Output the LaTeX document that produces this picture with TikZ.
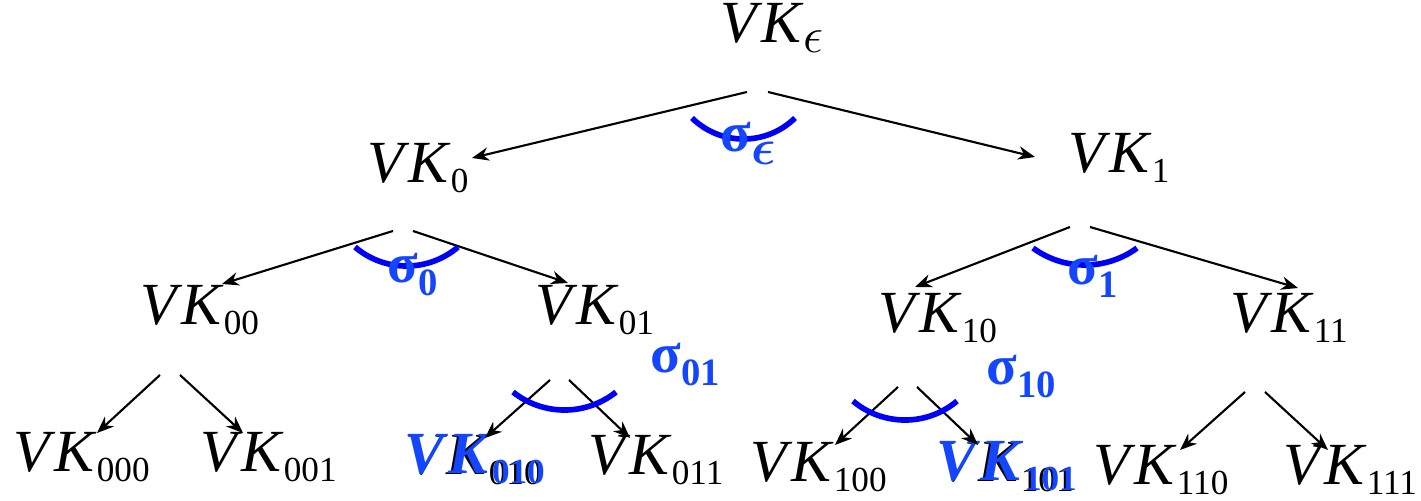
\documentclass[tikz,border=0pt]{standalone}
\usepackage{fontspec}
\setmainfont{Liberation Serif}
\usepackage{amsmath}
\usepackage{xcolor}
\usepackage{tikz}
\usetikzlibrary{positioning,arrows.meta}

\definecolor{sigblue}{RGB}{20,70,255}
\definecolor{arcblue}{RGB}{0,0,250}

\newcommand{\vk}[1]{\textit{V\kern1.2pt K}\raisebox{-2.8pt}{\fontsize{10}{10}\selectfont #1}}
\newcommand{\sig}[1]{\textbf{σ}\raisebox{-3.5pt}{\fontsize{11}{11}\selectfont\bfseries #1}}
\newcommand{\eps}{{\fontsize{14.4}{14.4}\selectfont$\epsilon$}}
\newcommand{\beps}{{\fontsize{14.4}{14.4}\selectfont$\boldsymbol{\epsilon}$}}

\begin{document}
\begin{tikzpicture}[x=0.01cm, y=0.01cm,
    key/.style={inner sep=0pt, anchor=base west, font=\fontsize{17}{17}\selectfont},
    keyhl/.style={key, text=sigblue, font=\fontsize{17}{17}\selectfont\bfseries},
    sig/.style={inner sep=0pt, anchor=base west, text=sigblue, font=\fontsize{16}{16}\selectfont},
    arrow/.style={->, >={Stealth[length=4.8pt,width=3.8pt]}, line width=0.6pt},
    sigarc/.style={draw=arcblue, line width=1.6pt}]

\useasboundingbox (0,0) rectangle (1421,501);

% Keys, level by level
\node[key] (kE) at (720,458) {\vk{\eps}};

\node[key] (k0) at (367,318) {\vk{0}};
\node[key] (k1) at (1068,328) {\vk{1}};

\node[key] (k00) at (140,176) {\vk{00}};
\node[key] (k01) at (535,176) {\vk{01}};
\node[key] (k10) at (878,168) {\vk{10}};
\node[key] (k11) at (1230,168) {\vk{11}};

\node[key] (k000) at (13,29) {\vk{000}};
\node[key] (k001) at (200,29) {\vk{001}};
\node[key] (k010) at (405,26) {\vk{010}};
\node[key] (k011) at (588,26) {\vk{011}};
\node[key] (k100) at (750,19) {\vk{100}};
\node[key] (k101) at (937,19) {\vk{101}};
\node[key] (k110) at (1093,16) {\vk{110}};
\node[key] (k111) at (1283,16) {\vk{111}};

% highlighted keys
\node[keyhl] (k010b) at (404,27) {\vk{010}};
\node[keyhl] (k101b) at (936,20) {\vk{101}};

% Edges
\draw[arrow] ([shift={(27,-49)}]kE.base west) -- ([shift={(105,25)}]k0.base west);
\draw[arrow] ([shift={(48,-49)}]kE.base west) -- ([shift={(-33,16)}]k1.base west);

\draw[arrow] ([shift={(26,-48)}]k0.base west) -- ([shift={(82,41)}]k00.base west);
\draw[arrow] ([shift={(46,-48)}]k0.base west) -- ([shift={(33,42)}]k01.base west);
\draw[arrow] ([shift={(2,-54)}]k1.base west) -- ([shift={(37,46)}]k10.base west);
\draw[arrow] ([shift={(22,-54)}]k1.base west) -- ([shift={(68,45)}]k11.base west);

\draw[arrow] ([shift={(20,-50)}]k00.base west) -- ([shift={(84,39)}]k000.base west);
\draw[arrow] ([shift={(40,-50)}]k00.base west) -- ([shift={(43,39)}]k001.base west);
\draw[arrow] ([shift={(15,-55)}]k01.base west) -- ([shift={(80,37)}]k010.base west);
\draw[arrow] ([shift={(34,-55)}]k01.base west) -- ([shift={(42,37)}]k011.base west);
\draw[arrow] ([shift={(20,-54)}]k10.base west) -- ([shift={(85,37)}]k100.base west);
\draw[arrow] ([shift={(39,-54)}]k10.base west) -- ([shift={(41,37)}]k101.base west);
\draw[arrow] ([shift={(15,-59)}]k11.base west) -- ([shift={(87,35)}]k110.base west);
\draw[arrow] ([shift={(35,-59)}]k11.base west) -- ([shift={(45,35)}]k111.base west);

% Signature arcs
\draw[sigarc] (743.5,435.6) ++(225.6:0.736cm) arc[start angle=225.6, end angle=314.4, radius=0.736cm];
\draw[sigarc] (406.5,314.3) ++(229.5:0.793cm) arc[start angle=229.5, end angle=310.5, radius=0.793cm];
\draw[sigarc] (1085,324) ++(233.8:0.88cm) arc[start angle=233.8, end angle=306.2, radius=0.88cm];
\draw[sigarc] (564.5,173.7) ++(231.5:0.827cm) arc[start angle=231.5, end angle=308.5, radius=0.827cm];
\draw[sigarc] (905,161.7) ++(229.9:0.807cm) arc[start angle=229.9, end angle=310.1, radius=0.807cm];

% Signature labels
\node[sig] (sE) at (720,349) {\sig{\beps}};
\node[sig] (s0) at (387,218) {\sig{0}};
\node[sig] (s1) at (1067,216) {\sig{1}};
\node[sig] (s01) at (650,128) {\sig{01}};
\node[sig] (s10) at (986,116) {\sig{10}};

\end{tikzpicture}
\end{document}
